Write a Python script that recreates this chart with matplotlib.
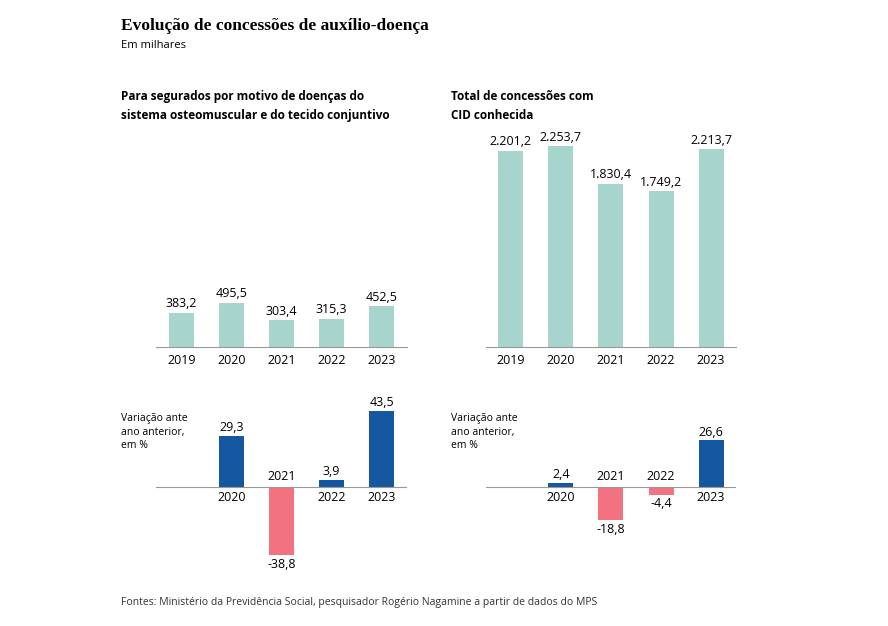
import matplotlib.pyplot as plt

anos = ["2019", "2020", "2021", "2022", "2023"]
osteo = [383.2, 495.5, 303.4, 315.3, 452.5]
total = [2201.2, 2253.7, 1830.4, 1749.2, 2213.7]
var_anos = ["2020", "2021", "2022", "2023"]
var_osteo = [29.3, -38.8, 3.9, 43.5]
var_total = [2.4, -18.8, -4.4, 26.6]

def fmt(v):
    s = f"{abs(v):,.1f}".replace(",", "X").replace(".", ",").replace("X", ".")
    return ("-" if v < 0 else "") + s

plt.rcParams['font.family'] = ['Open Sans', 'DejaVu Sans']
TEAL, BLUE, PINK = "#a7d5cd", "#1557a0", "#f27282"

fig = plt.figure(figsize=(8.88, 6.26), dpi=100)
fig.text(0.136, 0.958, "Evolução de concessões de auxílio-doença", family="Liberation Serif",
         weight="bold", fontsize=12.5, va="center")
fig.text(0.136, 0.928, "Em milhares", fontsize=8, va="center")
fig.text(0.136, 0.830, "Para segurados por motivo de doenças do\nsistema osteomuscular e do tecido conjuntivo",
         fontsize=8.5, weight="bold", va="center", linespacing=1.6)
fig.text(0.508, 0.830, "Total de concessões com\nCID conhecida",
         fontsize=8.5, weight="bold", va="center", linespacing=1.6)
fig.text(0.136, 0.038, "Fontes: Ministério da Previdência Social, pesquisador Rogério Nagamine a partir de dados do MPS",
         fontsize=7.5, va="center", color="#333")

def style(ax):
    for s in ["top", "right", "left"]:
        ax.spines[s].set_visible(False)
    ax.spines["bottom"].set_color("#999")
    ax.set_yticks([])
    ax.tick_params(axis="x", length=0, labelsize=9)

for x0, vals, vvals in [(0.176, osteo, var_osteo), (0.547, total, var_total)]:
    ax = fig.add_axes([x0, 0.446, 0.282, 0.356])
    ax.bar(anos, vals, width=0.5, color=TEAL)
    for i, v in enumerate(vals):
        ax.text(i, v + 25, fmt(v), ha="center", va="bottom", fontsize=9)
    ax.set_ylim(0, 2500)
    ax.set_xlim(-0.5, 4.5)
    style(ax)
    ax.tick_params(axis="x", pad=5)

    bx = fig.add_axes([x0, 0.096, 0.282, 0.266])
    xs = [1, 2, 3, 4]
    cols = [BLUE if v >= 0 else PINK for v in vvals]
    bx.bar(xs, vvals, width=0.5, color=cols)
    bx.axhline(0, color="#999", lw=0.8)
    for x, v, lab in zip(xs, vvals, var_anos):
        if v >= 0:
            bx.text(x, v + 1, fmt(v), ha="center", va="bottom", fontsize=9)
            bx.text(x, -2.5, lab, ha="center", va="top", fontsize=9)
        else:
            bx.text(x, v - 1.5, fmt(v), ha="center", va="top", fontsize=9)
            bx.text(x, 2.5, lab, ha="center", va="bottom", fontsize=9)
    bx.text(-1.2, 42, "Variação ante\nano anterior,\nem %", fontsize=7.5, va="top", linespacing=1.3)
    bx.set_ylim(-45, 50)
    bx.set_xlim(-0.5, 4.5)
    bx.axis("off")

fig.savefig("out.png", dpi=100)
